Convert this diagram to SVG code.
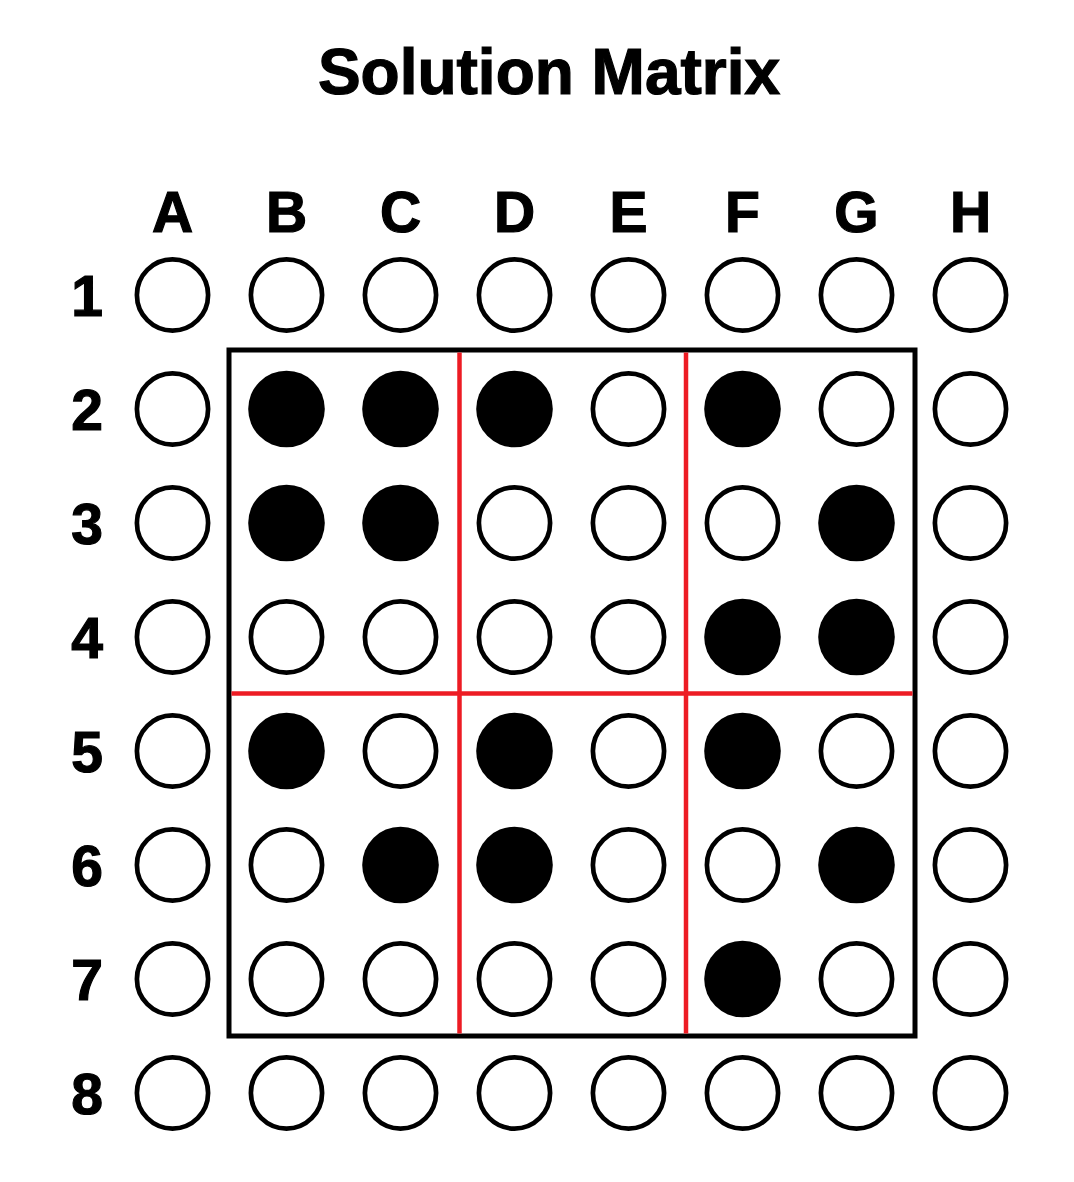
<svg xmlns="http://www.w3.org/2000/svg" width="1074" height="1182" viewBox="0 0 1074 1182">
<style>
text{font-family:"Liberation Sans","Lato",Arial,sans-serif;font-weight:bold;fill:#000;stroke:#000;stroke-width:1.2;text-anchor:middle}
.title{font-size:64px}
.lbl{font-size:57px}
.o{fill:#fff;stroke:#000;stroke-width:4.7}
.f{fill:#000}
.red{stroke:#ED1C24;stroke-width:4.5;fill:none}
.box{fill:none;stroke:#000;stroke-width:5}
</style>
<rect width="1074" height="1182" fill="#fff"/>
<text class="title" x="549" y="94">Solution Matrix</text>
<g id="col-labels">
<text class="lbl" x="172.5" y="232">A</text>
<text class="lbl" x="286.5" y="232">B</text>
<text class="lbl" x="400.5" y="232">C</text>
<text class="lbl" x="514.5" y="232">D</text>
<text class="lbl" x="628.5" y="232">E</text>
<text class="lbl" x="742.5" y="232">F</text>
<text class="lbl" x="856.5" y="232">G</text>
<text class="lbl" x="970.5" y="232">H</text>
</g>
<g id="row-labels">
<text class="lbl" x="87" y="316">1</text>
<text class="lbl" x="87" y="430">2</text>
<text class="lbl" x="87" y="544">3</text>
<text class="lbl" x="87" y="658">4</text>
<text class="lbl" x="87" y="772">5</text>
<text class="lbl" x="87" y="886">6</text>
<text class="lbl" x="87" y="1000">7</text>
<text class="lbl" x="87" y="1114">8</text>
</g>
<g id="frame">
<rect class="box" x="229" y="350" width="686" height="686"/>
<line class="red" x1="459.5" y1="352.5" x2="459.5" y2="1033.5"/>
<line class="red" x1="686" y1="352.5" x2="686" y2="1033.5"/>
<line class="red" x1="231.5" y1="693.5" x2="912.5" y2="693.5"/>
</g>
<g id="row1">
<circle class="o" cx="172.5" cy="295" r="35.6"/><circle class="o" cx="286.5" cy="295" r="35.6"/><circle class="o" cx="400.5" cy="295" r="35.6"/><circle class="o" cx="514.5" cy="295" r="35.6"/><circle class="o" cx="628.5" cy="295" r="35.6"/><circle class="o" cx="742.5" cy="295" r="35.6"/><circle class="o" cx="856.5" cy="295" r="35.6"/><circle class="o" cx="970.5" cy="295" r="35.6"/>
</g>
<g id="row2">
<circle class="o" cx="172.5" cy="409" r="35.6"/><circle class="f" cx="286.5" cy="409" r="38.3"/><circle class="f" cx="400.5" cy="409" r="38.3"/><circle class="f" cx="514.5" cy="409" r="38.3"/><circle class="o" cx="628.5" cy="409" r="35.6"/><circle class="f" cx="742.5" cy="409" r="38.3"/><circle class="o" cx="856.5" cy="409" r="35.6"/><circle class="o" cx="970.5" cy="409" r="35.6"/>
</g>
<g id="row3">
<circle class="o" cx="172.5" cy="523" r="35.6"/><circle class="f" cx="286.5" cy="523" r="38.3"/><circle class="f" cx="400.5" cy="523" r="38.3"/><circle class="o" cx="514.5" cy="523" r="35.6"/><circle class="o" cx="628.5" cy="523" r="35.6"/><circle class="o" cx="742.5" cy="523" r="35.6"/><circle class="f" cx="856.5" cy="523" r="38.3"/><circle class="o" cx="970.5" cy="523" r="35.6"/>
</g>
<g id="row4">
<circle class="o" cx="172.5" cy="637" r="35.6"/><circle class="o" cx="286.5" cy="637" r="35.6"/><circle class="o" cx="400.5" cy="637" r="35.6"/><circle class="o" cx="514.5" cy="637" r="35.6"/><circle class="o" cx="628.5" cy="637" r="35.6"/><circle class="f" cx="742.5" cy="637" r="38.3"/><circle class="f" cx="856.5" cy="637" r="38.3"/><circle class="o" cx="970.5" cy="637" r="35.6"/>
</g>
<g id="row5">
<circle class="o" cx="172.5" cy="751" r="35.6"/><circle class="f" cx="286.5" cy="751" r="38.3"/><circle class="o" cx="400.5" cy="751" r="35.6"/><circle class="f" cx="514.5" cy="751" r="38.3"/><circle class="o" cx="628.5" cy="751" r="35.6"/><circle class="f" cx="742.5" cy="751" r="38.3"/><circle class="o" cx="856.5" cy="751" r="35.6"/><circle class="o" cx="970.5" cy="751" r="35.6"/>
</g>
<g id="row6">
<circle class="o" cx="172.5" cy="865" r="35.6"/><circle class="o" cx="286.5" cy="865" r="35.6"/><circle class="f" cx="400.5" cy="865" r="38.3"/><circle class="f" cx="514.5" cy="865" r="38.3"/><circle class="o" cx="628.5" cy="865" r="35.6"/><circle class="o" cx="742.5" cy="865" r="35.6"/><circle class="f" cx="856.5" cy="865" r="38.3"/><circle class="o" cx="970.5" cy="865" r="35.6"/>
</g>
<g id="row7">
<circle class="o" cx="172.5" cy="979" r="35.6"/><circle class="o" cx="286.5" cy="979" r="35.6"/><circle class="o" cx="400.5" cy="979" r="35.6"/><circle class="o" cx="514.5" cy="979" r="35.6"/><circle class="o" cx="628.5" cy="979" r="35.6"/><circle class="f" cx="742.5" cy="979" r="38.3"/><circle class="o" cx="856.5" cy="979" r="35.6"/><circle class="o" cx="970.5" cy="979" r="35.6"/>
</g>
<g id="row8">
<circle class="o" cx="172.5" cy="1093" r="35.6"/><circle class="o" cx="286.5" cy="1093" r="35.6"/><circle class="o" cx="400.5" cy="1093" r="35.6"/><circle class="o" cx="514.5" cy="1093" r="35.6"/><circle class="o" cx="628.5" cy="1093" r="35.6"/><circle class="o" cx="742.5" cy="1093" r="35.6"/><circle class="o" cx="856.5" cy="1093" r="35.6"/><circle class="o" cx="970.5" cy="1093" r="35.6"/>
</g>
</svg>
